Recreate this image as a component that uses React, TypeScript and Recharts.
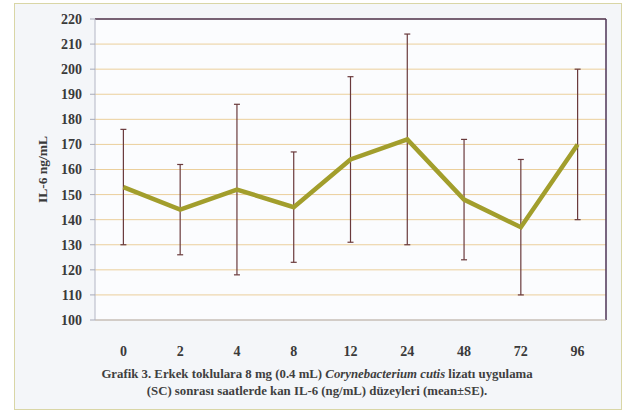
import React from "react";
import {
  ComposedChart,
  Line,
  XAxis,
  YAxis,
  CartesianGrid,
  ErrorBar,
  ReferenceLine,
} from "recharts";

const hours = ["0", "2", "4", "8", "12", "24", "48", "72", "96"];
const means = [153, 144, 152, 145, 164, 172, 148, 137, 170];
const se = [23, 18, 34, 22, 33, 42, 24, 27, 30];
const yTicks = [100, 110, 120, 130, 140, 150, 160, 170, 180, 190, 200, 210, 220];

const data = hours.map((h, i) => ({ idx: i, hour: h, mean: means[i], se: se[i] }));
const labelTicks = hours.map((_, i) => i);
const boundaryTicks = hours.map((_, i) => i - 0.5).concat(hours.length - 0.5);
const xDomain = [-0.5, hours.length - 0.5];

const font = "'Liberation Serif', 'Times New Roman', serif";

const YLabel = (props: any) => {
  const vb = props.viewBox || {};
  const x = vb.x + 42;
  const y = vb.y + vb.height / 2;
  return (
    <text
      x={x}
      y={y}
      transform={`rotate(-90, ${x}, ${y})`}
      textAnchor="middle"
      dominantBaseline="central"
      fontFamily={font}
      fontSize={13.5}
      fontWeight="bold"
      fill="#3a3a3a"
    >
      IL-6 ng/mL
    </text>
  );
};

const App = () => {
  return (
    <div
      style={{
        position: "absolute",
        left: 0,
        top: 0,
        width: 624,
        height: 415,
        background: "#ffffff",
        fontFamily: font,
      }}
    >
      <div
        style={{
          position: "absolute",
          left: 14,
          top: 3,
          width: 606,
          height: 405,
          border: "1px solid #d9d6a6",
          background: "#f4f6f9",
        }}
      />
      <div style={{ position: "absolute", left: 0, top: 0 }}>
        <ComposedChart
          width={624}
          height={415}
          data={data}
          margin={{ top: 19, right: 18, left: 0, bottom: 65 }}
        >
          <CartesianGrid
            vertical={false}
            stroke="#ebcf9c"
            strokeWidth={1}
            fill="#fbfcfe"
          />
          <XAxis
            xAxisId="b"
            type="number"
            dataKey="idx"
            domain={xDomain}
            ticks={boundaryTicks}
            tickFormatter={() => ""}
            axisLine={false}
            tickSize={4}
            tickLine={{ stroke: "#a8aab8" }}
            height={0}
            allowDataOverflow
          />
          <XAxis
            xAxisId="a"
            type="number"
            dataKey="idx"
            domain={xDomain}
            ticks={labelTicks}
            tickFormatter={(v: number) => hours[v]}
            axisLine={{ stroke: "#b4b6c4" }}
            tickLine={false}
            tickSize={0}
            tickMargin={26}
            height={30}
            tick={{ fontFamily: font, fontSize: 14, fontWeight: "bold", fill: "#3a3a3a" }}
            allowDataOverflow
          />
          <YAxis
            type="number"
            domain={[100, 220]}
            ticks={yTicks}
            width={95}
            axisLine={{ stroke: "#b4b6c4" }}
            tickLine={{ stroke: "#a8aab8" }}
            tickSize={5}
            tickMargin={8}
            interval={0}
            tick={{ fontFamily: font, fontSize: 14, fontWeight: "bold", fill: "#3a3a3a" }}
            label={<YLabel />}
          />
          <ReferenceLine y={220} xAxisId="a" stroke="#4e3456" strokeWidth={1.5} />
          <ReferenceLine x={hours.length - 0.5} xAxisId="a" stroke="#4e3456" strokeWidth={1.5} />
          <Line
            xAxisId="a"
            type="linear"
            dataKey="mean"
            stroke="#a29e2c"
            strokeWidth={4.5}
            dot={false}
            activeDot={false}
            isAnimationActive={false}
          >
            <ErrorBar
              dataKey="se"
              direction="y"
              width={3}
              stroke="#6a3a3c"
              strokeWidth={1.2}
              isAnimationActive={false}
            />
          </Line>
        </ComposedChart>
      </div>
      <div
        style={{
          position: "absolute",
          left: 14,
          top: 366,
          width: 606,
          textAlign: "center",
          fontFamily: font,
          fontSize: 12.8,
          fontWeight: "bold",
          color: "#3f3f3f",
          lineHeight: "17px",
        }}
      >
        Grafik 3. Erkek toklulara 8 mg (0.4 mL) <i>Corynebacterium cutis</i> lizatı uygulama
        <br />
        (SC) sonrası saatlerde kan IL-6 (ng/mL) düzeyleri (mean±SE).
      </div>
    </div>
  );
};

export default App;
